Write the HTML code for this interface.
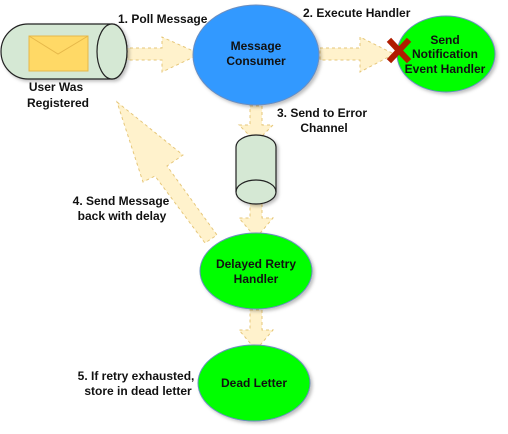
<!DOCTYPE html>
<html><head><style>
body{margin:0;background:#fff;}
svg{display:block;}
text{font-family:"Liberation Sans",sans-serif;font-weight:bold;font-size:12px;fill:#111;}
</style></head><body>
<svg width="508" height="434" viewBox="0 0 508 434">
<defs>
<filter id="sh" x="-20%" y="-20%" width="150%" height="150%"><feDropShadow dx="2" dy="2" stdDeviation="1.5" flood-color="#000" flood-opacity="0.25"/></filter>
</defs>
<g fill="#fff2cc" stroke="#e6c77a" stroke-dasharray="3,3" stroke-width="1">
<polygon points="124,48 162,48 162,37 200,54 162,72 162,60 124,60"/>
<polygon points="320,48 360,48 360,37 394,54 360,72 360,60 320,60"/>
<polygon points="250,106 262,106 262,125 273,125 256,142 239,125 250,125"/>
<polygon points="250,198 262,198 262,218 273,218 256,238 239,218 250,218"/>
<polygon points="250,310 262,310 262,330 273,330 256,350 239,330 250,330"/>
<polygon points="117,102 183,155 167,166 217,235 205,243 155,176 143,182"/>
</g>
<g filter="url(#sh)" stroke="#222" stroke-width="1.2" fill="#d5e8d4">
<path d="M28,24 L112,24 A15,27.5 0 0 1 112,79 L28,79 A27,27.5 0 0 1 28,24 Z"/>
<ellipse cx="112" cy="51.5" rx="15" ry="27.5"/>
</g>
<rect x="29" y="36" width="59" height="35" fill="#ffd966" stroke="#e6b84a"/>
<polyline points="29,36 58,54 88,36" fill="none" stroke="#e6b84a"/>
<text x="56" y="91" text-anchor="middle" font-size="14">User Was</text>
<text x="58" y="107" text-anchor="middle" font-size="14">Registered</text>
<g filter="url(#sh)" stroke="#222" stroke-width="1.2" fill="#d5e8d4">
<path d="M236,147 A20,12 0 0 1 276,147 L276,192 A20,12 0 0 1 236,192 Z"/>
<path d="M236,192 A20,12 0 0 1 276,192" fill="none"/>
</g>
<g filter="url(#sh)" stroke="#6c8ebf" stroke-width="1">
<ellipse cx="256" cy="55" rx="63" ry="50" fill="#3399ff"/>
<ellipse cx="446" cy="54" rx="49" ry="38" fill="#00ff00"/>
<ellipse cx="256" cy="271" rx="56" ry="38" fill="#00ff00"/>
<ellipse cx="254" cy="383" rx="56" ry="38" fill="#00ff00"/>
</g>
<text x="256" y="50" text-anchor="middle">Message</text>
<text x="256" y="65" text-anchor="middle">Consumer</text>
<text x="445" y="44" text-anchor="middle">Send</text>
<text x="445" y="58" text-anchor="middle">Notification</text>
<text x="445" y="73" text-anchor="middle">Event Handler</text>
<text x="256" y="268" text-anchor="middle">Delayed Retry</text>
<text x="256" y="283" text-anchor="middle">Handler</text>
<text x="254" y="387" text-anchor="middle">Dead Letter</text>
<g stroke="#b01c00" stroke-width="6" stroke-linecap="square">
<line x1="391" y1="42" x2="407" y2="59"/><line x1="407" y1="42" x2="391" y2="59"/>
</g>
<text x="118" y="23">1. Poll Message</text>
<text x="303" y="17">2. Execute Handler</text>
<text x="322" y="117" text-anchor="middle">3. Send to Error</text>
<text x="324" y="132" text-anchor="middle">Channel</text>
<text x="121" y="205" text-anchor="middle">4. Send Message</text>
<text x="122" y="220" text-anchor="middle">back with delay</text>
<text x="136" y="380" text-anchor="middle">5. If retry exhausted,</text>
<text x="138" y="395" text-anchor="middle">store in dead letter</text>
</svg>
</body></html>
